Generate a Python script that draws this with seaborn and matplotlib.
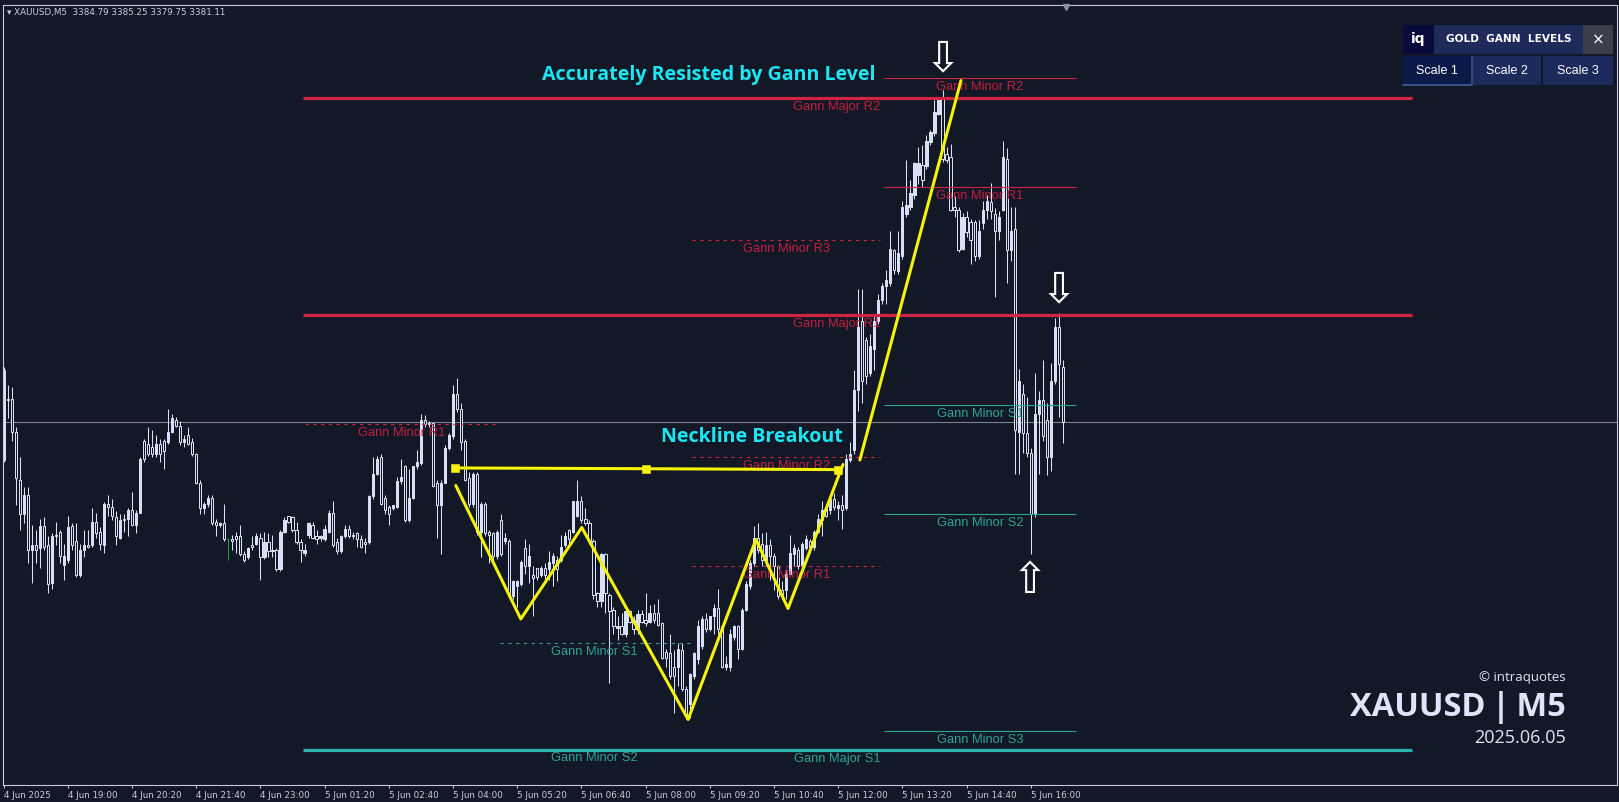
import numpy as np
import pandas as pd
import matplotlib
matplotlib.use("Agg")
import matplotlib.pyplot as plt
from matplotlib.patches import Rectangle
import seaborn as sns

# dane: świece M5 XAUUSD, indeks 0 = 4 Jun 17:40
opens = [3378.6, 3382.6, 3382.7, 3380.5, 3377.3, 3375.0, 3376.3, 3372.6, 3372.9, 3372.7,
         3374.2, 3372.9, 3370.4, 3373.5, 3373.8, 3371.6, 3371.9, 3374.2, 3373.2, 3370.9,
         3372.6, 3372.9, 3372.9, 3374.5, 3373.8, 3372.9, 3375.7, 3375.5, 3374.8, 3373.4,
         3374.6, 3374.7, 3375.3, 3374.3, 3375.1, 3379.9, 3379.7, 3379.5, 3379.0, 3379.7,
         3379.9, 3379.8, 3380.5, 3381.3, 3380.9, 3379.8, 3380.3, 3379.8, 3379.0, 3377.1,
         3375.4, 3375.7, 3376.1, 3374.5, 3374.3, 3374.4, 3373.3, 3373.3, 3373.5, 3373.5,
         3372.3, 3372.1, 3372.9, 3373.0, 3373.4, 3372.1, 3373.1, 3372.6, 3372.6, 3371.3,
         3373.8, 3374.9, 3374.8, 3373.9, 3373.1, 3372.4, 3373.6, 3374.3, 3373.5, 3373.4,
         3373.3, 3373.8, 3375.1, 3373.1, 3372.5, 3373.5, 3374.0, 3373.5, 3373.7, 3373.3,
         3373.1, 3373.1, 3376.2, 3377.7, 3378.8, 3376.1, 3375.5, 3375.4, 3375.5, 3377.2,
         3378.2, 3374.6, 3376.1, 3378.2, 3378.4, 3381.3, 3381.0, 3381.1, 3377.1, 3375.6,
         3377.1, 3379.4, 3380.2, 3383.0, 3382.0, 3379.9, 3377.4, 3375.7, 3377.7, 3373.8,
         3375.7, 3373.8, 3373.7, 3372.2, 3374.6, 3373.2, 3373.2, 3369.5, 3370.2, 3370.3,
         3372.7, 3371.5, 3370.9, 3371.4, 3370.9, 3371.4, 3371.3, 3371.7, 3371.9, 3371.9,
         3372.9, 3373.9, 3373.8, 3374.9, 3375.9, 3374.7, 3374.4, 3373.2, 3369.7, 3369.2,
         3372.3, 3369.6, 3368.6, 3367.4, 3367.5, 3367.0, 3368.5, 3367.9, 3367.3, 3368.3,
         3367.9, 3367.8, 3368.4, 3368.4, 3367.7, 3365.8, 3365.7, 3364.8, 3364.8, 3365.9,
         3363.3, 3362.3, 3364.2, 3365.3, 3366.2, 3368.0, 3367.3, 3368.2, 3368.7, 3367.5,
         3364.8, 3364.8, 3366.8, 3367.5, 3366.0, 3368.6, 3370.2, 3371.7, 3373.4, 3373.0,
         3371.9, 3372.9, 3372.2, 3371.5, 3369.9, 3369.9, 3371.0, 3372.3, 3372.6, 3371.5,
         3372.7, 3373.2, 3372.8, 3373.8, 3374.6, 3375.4, 3375.3, 3376.0, 3375.4, 3375.6,
         3375.4, 3378.6, 3379.3, 3383.3, 3387.9, 3386.6, 3384.4, 3386.0, 3387.9, 3389.3,
         3390.2, 3390.4, 3392.6, 3391.2, 3392.2, 3395.0, 3395.5, 3396.3, 3397.6, 3398.3,
         3398.2, 3399.8, 3400.4, 3401.7, 3402.7, 3399.0, 3398.8, 3395.5, 3395.3, 3392.7,
         3394.8, 3394.5, 3394.5, 3392.2, 3394.4, 3395.3, 3395.8, 3395.0, 3393.9, 3395.3,
         3398.7, 3392.6, 3394.0, 3380.5, 3383.0, 3380.4, 3379.1, 3375.0, 3381.7, 3382.6,
         3381.3, 3378.8, 3383.9, 3387.5, 3384.79]
highs = [3384.8, 3383.6, 3383.5, 3380.8, 3378.8, 3376.8, 3376.8, 3374.3, 3373.9, 3374.7,
         3374.8, 3373.5, 3373.7, 3374.5, 3373.9, 3373.0, 3374.9, 3374.4, 3374.4, 3373.0,
         3373.9, 3373.9, 3375.4, 3375.1, 3374.1, 3375.8, 3376.3, 3376.0, 3375.2, 3375.0,
         3375.0, 3375.4, 3376.5, 3375.3, 3378.8, 3380.0, 3380.8, 3380.6, 3380.3, 3380.0,
         3380.0, 3382.0, 3381.7, 3381.5, 3381.2, 3380.3, 3380.8, 3380.1, 3379.1, 3377.3,
         3375.8, 3376.3, 3376.3, 3374.7, 3374.5, 3375.7, 3373.4, 3373.6, 3373.8, 3374.3,
         3372.5, 3372.8, 3373.5, 3373.7, 3373.7, 3373.8, 3373.7, 3373.6, 3372.7, 3373.9,
         3374.8, 3374.9, 3374.9, 3374.5, 3373.3, 3373.0, 3374.5, 3374.5, 3373.9, 3373.6,
         3374.3, 3375.3, 3375.9, 3373.4, 3373.6, 3374.3, 3374.3, 3373.8, 3373.8, 3373.6,
         3373.4, 3376.3, 3378.8, 3378.9, 3379.0, 3376.3, 3375.6, 3375.6, 3377.5, 3378.7,
         3378.3, 3378.0, 3378.2, 3379.3, 3381.7, 3381.6, 3381.2, 3381.1, 3377.3, 3377.3,
         3379.6, 3380.4, 3383.6, 3384.1, 3382.4, 3380.0, 3377.8, 3377.8, 3377.8, 3375.8,
         3375.8, 3373.9, 3373.8, 3373.9, 3375.0, 3373.7, 3373.3, 3370.6, 3370.6, 3371.9,
         3373.3, 3373.0, 3371.5, 3371.4, 3371.5, 3371.7, 3372.5, 3372.4, 3372.2, 3373.6,
         3373.8, 3374.0, 3375.9, 3377.3, 3376.2, 3375.4, 3374.6, 3373.3, 3369.8, 3372.4,
         3372.4, 3369.7, 3368.8, 3368.2, 3368.4, 3368.6, 3368.6, 3368.2, 3368.6, 3368.6,
         3369.7, 3368.9, 3369.0, 3369.3, 3367.8, 3366.0, 3367.0, 3365.9, 3366.4, 3366.4,
         3363.5, 3364.4, 3365.8, 3367.9, 3368.2, 3368.4, 3368.2, 3369.0, 3370.0, 3367.6,
         3365.5, 3367.3, 3367.6, 3367.6, 3368.7, 3370.5, 3371.9, 3374.2, 3374.4, 3373.7,
         3373.8, 3373.3, 3372.4, 3371.6, 3370.5, 3371.3, 3373.6, 3373.0, 3372.8, 3373.1,
         3373.6, 3373.3, 3373.9, 3375.0, 3375.9, 3375.7, 3376.3, 3376.4, 3375.9, 3376.3,
         3379.0, 3379.8, 3384.6, 3390.0, 3390.0, 3386.8, 3387.0, 3388.2, 3389.7, 3390.4,
         3391.3, 3393.9, 3392.7, 3393.9, 3395.9, 3398.6, 3397.3, 3398.5, 3399.5, 3399.6,
         3400.3, 3400.6, 3402.6, 3402.8, 3403.3, 3399.5, 3399.7, 3396.2, 3395.5, 3395.1,
         3395.2, 3394.7, 3394.6, 3394.6, 3395.9, 3396.3, 3397.1, 3395.4, 3395.2, 3399.9,
         3399.4, 3395.5, 3395.5, 3384.7, 3383.7, 3382.8, 3379.4, 3384.4, 3383.2, 3385.3,
         3382.4, 3385.1, 3388.1, 3388.4, 3385.25]
lows = [3378.5, 3381.4, 3379.9, 3375.6, 3373.9, 3374.4, 3371.7, 3370.4, 3371.7, 3371.4,
        3372.6, 3369.7, 3370.0, 3372.9, 3371.7, 3370.6, 3371.7, 3372.6, 3370.8, 3370.8,
        3372.1, 3372.7, 3372.8, 3373.4, 3372.6, 3372.4, 3374.9, 3374.6, 3372.9, 3373.3,
        3373.8, 3373.5, 3374.2, 3373.7, 3375.1, 3378.5, 3378.9, 3378.8, 3378.8, 3378.5,
        3378.0, 3379.7, 3380.4, 3380.8, 3379.6, 3379.5, 3379.6, 3378.9, 3377.0, 3375.0,
        3375.0, 3375.5, 3374.3, 3373.5, 3374.1, 3373.2, 3371.9, 3372.6, 3372.4, 3372.2,
        3371.8, 3372.0, 3372.6, 3372.9, 3370.6, 3372.0, 3372.1, 3372.1, 3371.2, 3371.2,
        3373.7, 3374.4, 3373.8, 3373.0, 3371.8, 3372.2, 3373.4, 3373.3, 3373.0, 3373.2,
        3373.2, 3373.7, 3372.8, 3372.3, 3372.4, 3373.4, 3373.4, 3373.3, 3372.8, 3372.7,
        3372.4, 3373.0, 3376.0, 3377.6, 3375.6, 3375.0, 3374.3, 3375.3, 3375.4, 3377.0,
        3374.5, 3374.5, 3376.0, 3378.0, 3378.3, 3380.8, 3380.8, 3376.8, 3373.4, 3372.3,
        3377.1, 3379.3, 3380.0, 3381.8, 3379.3, 3377.2, 3375.5, 3375.5, 3373.6, 3372.1,
        3373.5, 3371.7, 3371.9, 3372.0, 3372.2, 3373.0, 3369.4, 3369.3, 3368.8, 3370.2,
        3371.0, 3370.4, 3368.2, 3370.6, 3370.8, 3370.5, 3370.6, 3370.2, 3370.5, 3371.8,
        3372.8, 3373.0, 3373.7, 3374.8, 3374.4, 3374.3, 3373.0, 3369.3, 3368.8, 3368.8,
        3368.4, 3363.7, 3367.0, 3366.6, 3366.9, 3366.8, 3367.7, 3367.0, 3367.0, 3367.7,
        3367.5, 3367.7, 3367.7, 3367.5, 3365.3, 3364.8, 3364.0, 3361.7, 3363.5, 3363.2,
        3361.3, 3361.4, 3364.0, 3365.0, 3366.0, 3367.1, 3367.2, 3367.0, 3367.0, 3364.7,
        3364.6, 3364.5, 3366.6, 3365.3, 3365.9, 3368.5, 3370.0, 3371.5, 3372.4, 3371.5,
        3371.5, 3370.6, 3369.9, 3369.3, 3369.3, 3369.3, 3370.9, 3371.5, 3371.3, 3371.4,
        3372.6, 3372.4, 3372.6, 3373.7, 3373.5, 3374.8, 3375.0, 3375.3, 3374.6, 3374.0,
        3375.3, 3378.5, 3379.0, 3381.9, 3382.4, 3383.7, 3384.2, 3384.6, 3387.7, 3389.0,
        3389.0, 3390.2, 3391.0, 3391.0, 3392.0, 3394.8, 3395.3, 3396.0, 3397.0, 3396.8,
        3398.0, 3399.6, 3400.2, 3401.6, 3398.5, 3398.4, 3395.2, 3394.8, 3392.5, 3392.6,
        3393.5, 3391.7, 3391.9, 3392.0, 3394.0, 3394.7, 3394.7, 3389.5, 3393.3, 3395.2,
        3390.4, 3391.9, 3377.7, 3377.7, 3379.1, 3378.8, 3372.3, 3374.8, 3377.7, 3379.9,
        3377.6, 3377.9, 3383.7, 3381.5, 3379.75]
closes = [3384.6, 3382.7, 3380.5, 3377.4, 3375.0, 3376.3, 3372.6, 3372.9, 3372.6, 3374.2,
          3372.8, 3370.3, 3373.5, 3373.6, 3372.2, 3372.2, 3374.1, 3372.9, 3370.9, 3372.6,
          3372.9, 3372.8, 3374.5, 3373.7, 3373.0, 3375.7, 3375.5, 3374.9, 3373.5, 3374.6,
          3374.7, 3375.3, 3374.3, 3375.1, 3378.7, 3378.7, 3379.0, 3379.0, 3379.7, 3379.0,
          3379.2, 3380.5, 3381.4, 3380.9, 3379.8, 3380.0, 3379.7, 3379.0, 3377.1, 3375.4,
          3375.7, 3376.1, 3374.4, 3374.3, 3374.4, 3373.3, 3373.3, 3373.2, 3373.3, 3372.3,
          3371.9, 3372.7, 3372.8, 3373.5, 3372.1, 3373.1, 3372.5, 3372.5, 3371.3, 3373.8,
          3374.6, 3374.5, 3373.9, 3373.1, 3372.6, 3372.6, 3374.4, 3373.4, 3373.3, 3373.5,
          3374.0, 3375.1, 3372.9, 3372.5, 3373.5, 3374.0, 3373.5, 3373.6, 3373.3, 3372.8,
          3373.0, 3376.2, 3377.7, 3378.7, 3375.7, 3375.3, 3375.0, 3375.6, 3377.2, 3377.5,
          3374.6, 3376.1, 3378.2, 3378.5, 3381.3, 3381.0, 3381.1, 3376.9, 3375.6, 3377.1,
          3379.4, 3380.3, 3383.0, 3382.0, 3379.8, 3377.3, 3375.7, 3377.7, 3373.8, 3375.7,
          3373.7, 3373.6, 3372.2, 3373.8, 3372.3, 3373.4, 3369.5, 3370.5, 3370.5, 3371.8,
          3371.5, 3372.2, 3370.7, 3370.8, 3371.4, 3370.9, 3371.8, 3372.2, 3371.3, 3372.8,
          3373.5, 3373.3, 3375.9, 3375.9, 3374.6, 3374.4, 3373.2, 3369.6, 3369.2, 3372.3,
          3369.7, 3368.5, 3367.5, 3367.5, 3367.0, 3368.5, 3367.8, 3367.3, 3368.3, 3367.8,
          3367.7, 3368.4, 3367.9, 3367.6, 3365.4, 3365.4, 3364.2, 3364.2, 3366.0, 3363.3,
          3361.6, 3364.3, 3365.7, 3367.5, 3368.0, 3367.3, 3368.2, 3368.7, 3367.3, 3364.8,
          3365.0, 3367.0, 3367.5, 3366.0, 3368.6, 3370.3, 3371.7, 3373.4, 3372.6, 3371.9,
          3372.9, 3372.2, 3371.5, 3369.5, 3369.5, 3371.0, 3372.4, 3372.7, 3371.5, 3373.0,
          3373.3, 3372.8, 3373.8, 3374.7, 3375.3, 3374.9, 3376.0, 3375.5, 3375.6, 3375.3,
          3378.7, 3379.0, 3383.3, 3387.5, 3383.9, 3384.2, 3386.2, 3387.9, 3389.3, 3390.2,
          3390.6, 3392.7, 3391.3, 3392.4, 3395.5, 3395.6, 3396.4, 3398.4, 3398.4, 3397.3,
          3399.9, 3400.5, 3401.8, 3402.7, 3398.7, 3398.6, 3395.3, 3395.3, 3392.6, 3394.8,
          3393.8, 3393.3, 3392.2, 3393.9, 3395.3, 3395.9, 3395.2, 3393.9, 3394.8, 3398.8,
          3392.6, 3393.9, 3380.6, 3383.9, 3380.4, 3379.1, 3375.0, 3381.7, 3382.6, 3380.2,
          3378.8, 3383.9, 3387.5, 3385.0, 3381.11]
doji_bars = [56]  # jedyna świeca rysowana na zielono
bid_price = 3381.11

tick_bars = [0, 16, 32, 48, 64, 80, 96, 112, 128, 144, 160, 176, 192, 208, 224, 240, 256]
tick_labels = ["4 Jun 2025", "4 Jun 19:00", "4 Jun 20:20", "4 Jun 21:40", "4 Jun 23:00",
               "5 Jun 01:20", "5 Jun 02:40", "5 Jun 04:00", "5 Jun 05:20", "5 Jun 06:40",
               "5 Jun 08:00", "5 Jun 09:20", "5 Jun 10:40", "5 Jun 12:00", "5 Jun 13:20",
               "5 Jun 14:40", "5 Jun 16:00"]

# poziomy Gann
level_names = ["Gann Major R2", "Gann Major R1", "Gann Major S1",
               "Gann Minor R2", "Gann Minor R1", "Gann Minor S1", "Gann Minor S2", "Gann Minor S3",
               "Gann Minor R3", "Gann Minor R2", "Gann Minor R1",
               "Gann Minor R1", "Gann Minor S1", "Gann Minor S2"]
level_prices = [3402.75, 3388.25, 3359.25,
                3404.05, 3396.8, 3382.25, 3375.0, 3360.5,
                3393.3, 3378.8, 3371.5,
                3381.0, 3366.4, 3359.3]
level_from = [74.6, 74.6, 74.6, 219.4, 219.4, 219.4, 219.4, 219.4,
              171.6, 171.6, 171.6, 75.1, 123.7, 123.7]
level_to = [351.0, 351.0, 351.0, 267.3, 267.3, 267.3, 267.3, 267.3,
            218.4, 218.4, 218.4, 123.0, 171.1, 171.1]
level_label_bar = [207.7, 207.7, 207.7, 243.3, 243.3, 243.3, 243.3, 243.3,
                   195.2, 195.2, 195.2, 99.3, 147.3, 147.3]
level_kind = ["major", "major", "major", "solid", "solid", "solid", "solid", "solid",
              "dash", "dash", "dash", "dash", "dash", "dash"]

# formacja odwróconej głowy z ramionami
pattern_bars = [112.7, 128.9, 144.1, 170.6, 187.5, 195.5, 209.2]
pattern_prices = [3376.9, 3368.0, 3374.1, 3361.3, 3373.3, 3368.7, 3378.3]
neckline_bars = [112.5, 160.1, 207.9]
neckline_prices = [3378.07, 3378.02, 3377.96]
breakout_bars = [213.4, 238.6]
breakout_prices = [3378.6, 3403.9]

BG = "#131826"
CANDLE = "#d8e0f8"
RED = "#d02443"
RED_TXT = "#c0203f"
TEAL = "#2aa39b"
TEAL_MAJOR = "#29b2aa"
YELLOW = "#f7f20a"
CYAN = "#1de6f2"
LIGHT = "#dde5fb"

sns.set_theme(style="dark", rc={"axes.facecolor": BG, "figure.facecolor": BG,
                                "axes.grid": False})
plt.rcParams["font.family"] = ["Liberation Sans", "DejaVu Sans"]

fig = plt.figure(figsize=(16.19, 8.02), dpi=100)
ax = fig.add_axes([3 / 1619, 17 / 802, 1614 / 1619, 780 / 802])
ax.set_facecolor(BG)

df = pd.DataFrame({"open": opens, "high": highs, "low": lows, "close": closes})
df["bar"] = np.arange(len(df))
df["bull"] = df["close"] >= df["open"]

# świece: knoty, potem korpusy (wzrostowe pełne, spadkowe puste)
wick_colors = [("#1f9d3a" if b in doji_bars else CANDLE) for b in df["bar"]]
ax.vlines(df["bar"], df["low"], df["high"], colors=wick_colors, linewidth=0.75, zorder=2)
body_face = [CANDLE if bull else BG for bull in df["bull"]]
ax.bar(df["bar"], df["close"] - df["open"], bottom=df["open"], width=0.55,
       color=body_face, edgecolor=wick_colors, linewidth=0.72, zorder=2.5)

# linia bid
ax.axhline(bid_price, color="#7d828e", linewidth=0.8, zorder=1)

# poziomy Gann
for name, price, a, b, lab, kind in zip(level_names, level_prices, level_from,
                                        level_to, level_label_bar, level_kind):
    is_red = "R" in name.split()[-1]
    if kind == "major":
        col = RED if is_red else TEAL_MAJOR
        ax.hlines(price, a, b, colors=col, linewidth=2.3, zorder=3)
    elif kind == "solid":
        col = RED if is_red else TEAL
        ax.hlines(price, a, b, colors=col, linewidth=0.8, zorder=3)
    else:
        col = RED if is_red else TEAL
        ax.hlines(price, a, b, colors=col, linewidth=0.8, linestyles=(0, (3, 4)), zorder=2.9)
    ax.annotate(name, xy=(lab, price), xytext=(0, -9), textcoords="offset pixels",
                ha="center", va="center", fontsize=9.3,
                color=RED_TXT if is_red else TEAL, zorder=4)

# linie formacji (seaborn)
sns.lineplot(x=pattern_bars, y=pattern_prices, ax=ax, color=YELLOW, linewidth=2.2,
             sort=False, estimator=None, zorder=5)
sns.lineplot(x=neckline_bars, y=neckline_prices, ax=ax, color=YELLOW, linewidth=2.2,
             sort=False, estimator=None, zorder=5)
sns.scatterplot(x=neckline_bars, y=neckline_prices, ax=ax, color=YELLOW, marker="s",
                s=28, edgecolor=YELLOW, zorder=6)
sns.lineplot(x=breakout_bars, y=breakout_prices, ax=ax, color=YELLOW, linewidth=2.2,
             sort=False, estimator=None, zorder=5)

# opisy
ax.text(175.8, 3404.3, "Accurately Resisted by Gann Level", ha="center", va="center",
        fontsize=14.1, fontweight="bold", color=CYAN, family=["Open Sans", "DejaVu Sans"], zorder=6)
ax.text(186.4, 3380.15, "Neckline Breakout", ha="center", va="center",
        fontsize=14.1, fontweight="bold", color=CYAN, family=["Open Sans", "DejaVu Sans"], zorder=6)

# strzałki
arrow_bars = [234.1, 263.0, 255.8]
arrow_prices = [3405.33, 3389.93, 3370.5]
arrow_glyphs = ["\u21e9", "\u21e9", "\u21e7"]
for bx, py, g in zip(arrow_bars, arrow_prices, arrow_glyphs):
    ax.text(bx, py, g, ha="center", va="center", fontsize=31, color="white",
            family=["DejaVu Sans"], zorder=6)

ax.set_xlim(-0.15, 402.1)
ax.set_ylim(3356.93, 3408.94)
ax.set_xticks(tick_bars)
ax.set_xticklabels(tick_labels, ha="left", fontsize=6.3, color="#c9cdd8",
                   family=["DejaVu Sans"])
ax.tick_params(axis="x", direction="out", length=2.5, width=0.7, color="#c9cdd8", pad=1.5,
               bottom=True)
ax.set_yticks([])
ax.set_xlabel("")
ax.set_ylabel("")
for s in ax.spines.values():
    s.set_visible(True)
    s.set_color("#c5c9d3")
    s.set_linewidth(0.8)

# nakładka w pikselach: nagłówek, panel, znak wodny
ui = fig.add_axes([0, 0, 1, 1])
ui.set_xlim(0, 1619)
ui.set_ylim(802, 0)
ui.axis("off")
ui.patch.set_alpha(0)

ui.text(7, 12, "\u25be XAUUSD,M5  3384.79 3385.25 3379.75 3381.11", fontsize=6.3,
        color="#c8d0e0", va="center", ha="left", family=["DejaVu Sans"])
ui.plot([1066], [7], marker="v", markersize=4, color="#8a91a3")

panel = [(1403, 25, 31, 29, "#070b3c"), (1434, 25, 149, 29, "#1d2a5a"),
         (1583, 25, 30, 29, "#3b3f4b"), (1403, 56, 68, 29, "#0c1a4a"),
         (1473, 56, 68, 29, "#1c2a5c"), (1543, 56, 70, 29, "#1c2a5c")]
for x0, y0, w, h, c in panel:
    ui.add_patch(Rectangle((x0, y0), w, h, facecolor=c, edgecolor="none"))
ui.plot([1403, 1471], [84.5, 84.5], color="#3c5088", linewidth=1.5)
ui.plot([1472, 1472], [56, 85], color="#3c5088", linewidth=1.2)
ui.text(1418.5, 39.5, "iq", color="white", fontsize=10, fontweight="bold",
        ha="center", va="center", family=["DejaVu Sans"])
ui.text(1509, 39.5, "GOLD  GANN  LEVELS", color="white", fontsize=7.6, fontweight="bold",
        ha="center", va="center", family=["DejaVu Sans"])
ui.text(1598, 40, "\u00d7", color="white", fontsize=11, ha="center", va="center",
        family=["DejaVu Sans"])
for cx, t in zip([1437, 1507, 1578], ["Scale 1", "Scale 2", "Scale 3"]):
    ui.text(cx, 70.5, t, color="white", fontsize=9, ha="center", va="center")

ui.text(1566, 677, "\u00a9 intraquotes", color=LIGHT, fontsize=9.5, ha="right", va="center",
        family=["Open Sans", "DejaVu Sans"])
ui.text(1566, 707, "XAUUSD\u2009|\u2009M5", color=LIGHT, fontsize=23.5, fontweight="bold",
        ha="right", va="center", family=["Open Sans", "DejaVu Sans"])
ui.text(1566, 738, "2025.06.05", color=LIGHT, fontsize=13, ha="right", va="center",
        family=["Open Sans", "DejaVu Sans"])

fig.savefig("out.png", dpi=100, facecolor=BG)
